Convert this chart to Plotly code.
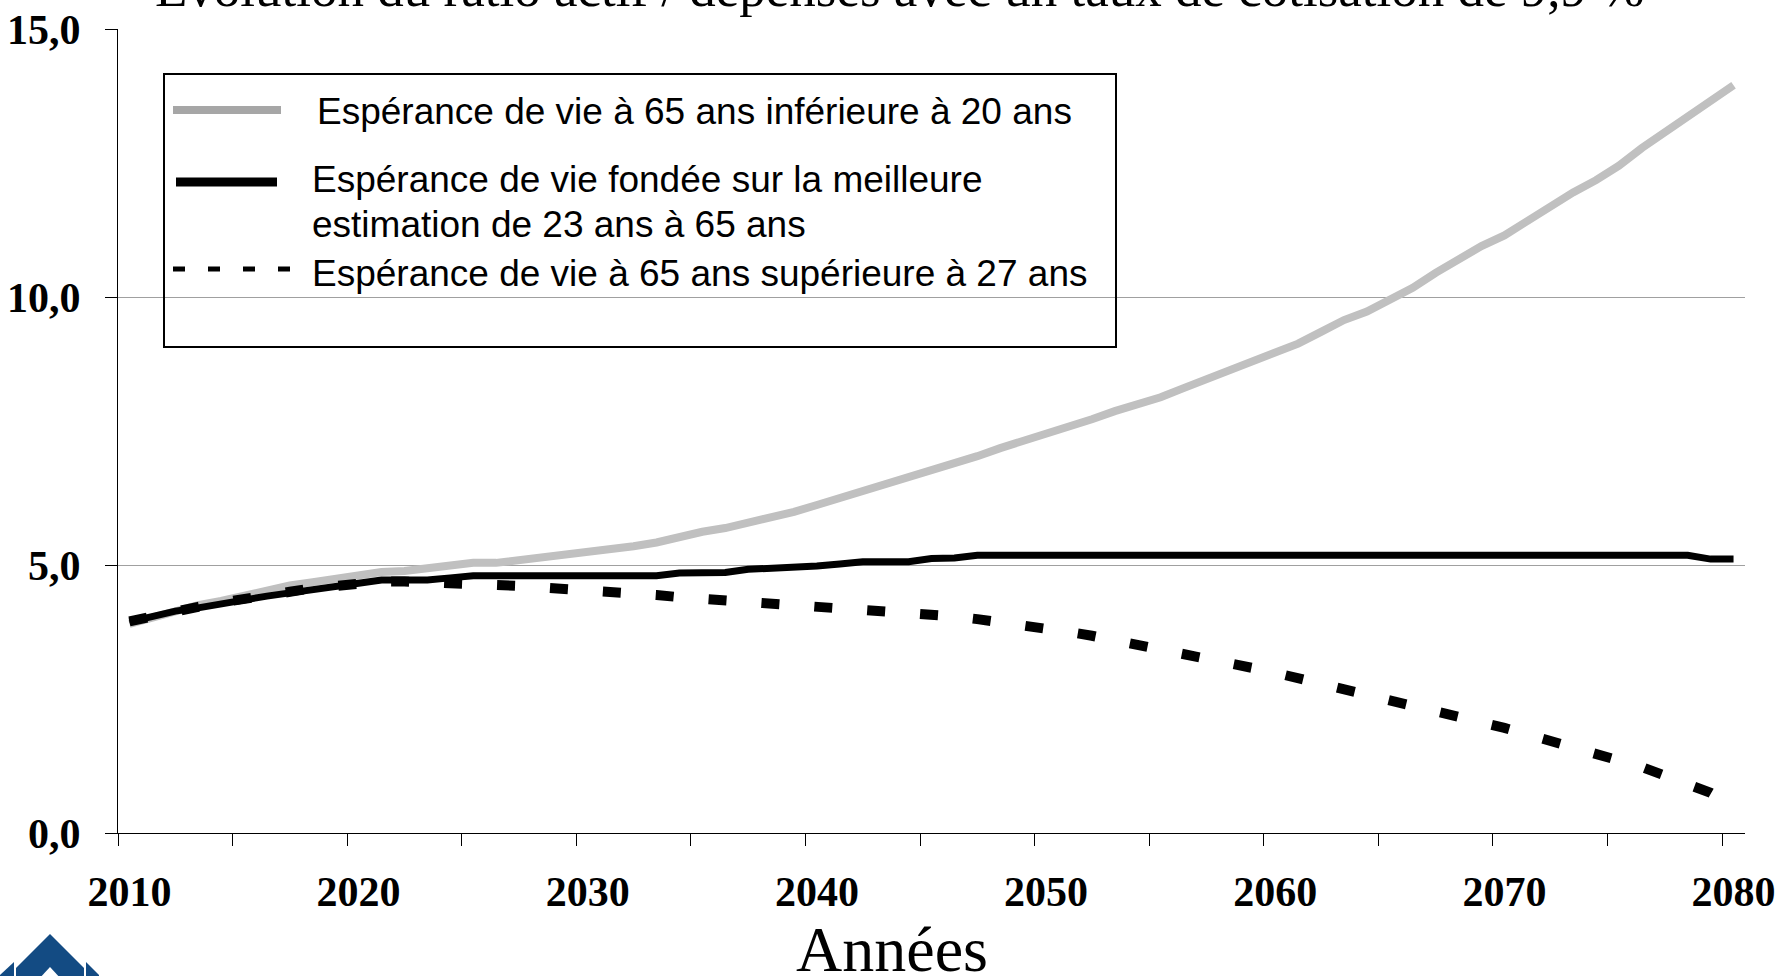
import plotly.graph_objects as go

# ---------------- data ----------------
years = list(range(2010, 2081))

names = [
    "Espérance de vie à 65 ans inférieure à 20 ans",
    "Espérance de vie fondée sur la meilleure<br>estimation de 23 ans à 65 ans",
    "Espérance de vie à 65 ans supérieure à 27 ans",
]

low_le = [3.90, 4.02, 4.15, 4.25, 4.33, 4.43, 4.53, 4.62, 4.68, 4.74,
          4.83, 4.87, 4.89, 4.93, 4.99, 5.04, 5.04, 5.09, 5.13, 5.18,
          5.23, 5.29, 5.35, 5.42, 5.53, 5.62, 5.69, 5.78, 5.88, 5.99,
          6.12, 6.25, 6.35, 6.48, 6.63, 6.76, 6.90, 7.03, 7.18, 7.31,
          7.44, 7.60, 7.72, 7.87, 8.00, 8.13, 8.30, 8.47, 8.62, 8.78,
          8.96, 9.13, 9.35, 9.57, 9.73, 9.95, 10.17, 10.45, 10.70, 10.95,
          11.15, 11.42, 11.70, 11.95, 12.18, 12.45, 12.78, 13.08, 13.38, 13.65,
          13.95]

best_le = [3.94, 4.05, 4.14, 4.20, 4.28, 4.35, 4.42, 4.48, 4.55, 4.61,
           4.66, 4.72, 4.72, 4.72, 4.76, 4.80, 4.80, 4.80, 4.80, 4.80,
           4.80, 4.80, 4.80, 4.80, 4.85, 4.86, 4.86, 4.92, 4.93, 4.97,
           4.98, 5.02, 5.06, 5.06, 5.06, 5.12, 5.13, 5.18, 5.18, 5.18,
           5.18, 5.18, 5.18, 5.18, 5.18, 5.18, 5.18, 5.18, 5.18, 5.18,
           5.18, 5.18, 5.18, 5.18, 5.18, 5.18, 5.18, 5.18, 5.18, 5.18,
           5.18, 5.18, 5.18, 5.18, 5.18, 5.18, 5.18, 5.18, 5.18, 5.11,
           5.11]

high_le = [3.95, 4.05, 4.14, 4.22, 4.30, 4.38, 4.44, 4.50, 4.57, 4.62,
           4.66, 4.69, 4.69, 4.68, 4.65, 4.63, 4.62, 4.61, 4.58, 4.56,
           4.54, 4.51, 4.48, 4.44, 4.40, 4.37, 4.34, 4.31, 4.28, 4.26,
           4.23, 4.21, 4.18, 4.16, 4.12, 4.08, 4.04, 3.99, 3.94, 3.88,
           3.82, 3.75, 3.68, 3.60, 3.52, 3.44, 3.35, 3.26, 3.17, 3.08,
           2.99, 2.89, 2.78, 2.69, 2.60, 2.50, 2.40, 2.30, 2.18, 2.08,
           1.96, 1.84, 1.72, 1.60, 1.49, 1.36, 1.23, 1.07, 0.93, 0.75,
           0.50]

x_labels = ["2010", "2020", "2030", "2040", "2050", "2060", "2070", "2080"]
x_label_years = [2010, 2020, 2030, 2040, 2050, 2060, 2070, 2080]
y_ticks = [0, 5, 10, 15]

title_text = "Évolution du ratio actif / dépenses avec un taux de cotisation de 9,9 %"
x_title = "Années"

# ---------------- layout helpers (pixel -> paper) ----------------
W, H = 1779, 976
L, R, T, B = 118, 34, 29, 143
PW, PH = W - L - R, H - T - B


def px(x):
    return (x - L) / PW


def py(y):
    return (H - B - y) / PH


fig = go.Figure()

fig.add_trace(go.Scatter(x=years, y=low_le, mode="lines", name=names[0],
                         line=dict(color="#C0C0C0", width=8), showlegend=False))
fig.add_trace(go.Scatter(x=years, y=best_le, mode="lines", name=names[1],
                         line=dict(color="#000000", width=7), showlegend=False))
fig.add_trace(go.Scatter(x=years, y=high_le, mode="lines", name=names[2],
                         line=dict(color="#000000", width=10, dash="18px,35px"),
                         showlegend=False))

shapes = []
# legend box
shapes.append(dict(type="rect", xref="paper", yref="paper",
                   x0=px(164), x1=px(1116), y0=py(347), y1=py(74),
                   line=dict(color="black", width=2), fillcolor="rgba(0,0,0,0)"))
# legend samples
shapes.append(dict(type="line", xref="paper", yref="paper",
                   x0=px(173), x1=px(281), y0=py(110), y1=py(110),
                   line=dict(color="#A6A6A6", width=8)))
shapes.append(dict(type="line", xref="paper", yref="paper",
                   x0=px(176), x1=px(277), y0=py(182), y1=py(182),
                   line=dict(color="black", width=9)))
shapes.append(dict(type="line", xref="paper", yref="paper",
                   x0=px(173), x1=px(291), y0=py(269), y1=py(269),
                   line=dict(color="black", width=5, dash="12px,23px")))


def path(points):
    s = "M " + " L ".join(f"{px(a):.5f},{py(b):.5f}" for a, b in points) + " Z"
    return s


logo_blue = "#134B83"
logo_parts = [
    [(50, 934), (84, 968), (84, 980), (16, 980), (16, 968)],
    [(0, 975), (14, 962), (14, 980), (0, 980)],
    [(86, 962), (99, 975), (99, 980), (86, 980)],
]
for pts in logo_parts:
    shapes.append(dict(type="path", xref="paper", yref="paper", path=path(pts),
                       fillcolor=logo_blue, line=dict(width=0), layer="above"))
shapes.append(dict(type="path", xref="paper", yref="paper",
                   path=path([(50, 967), (62, 980), (38, 980)]),
                   fillcolor="white", line=dict(width=0), layer="above"))

annotations = []
leg_font = dict(family="Liberation Sans, Arial, sans-serif", size=37, color="black")
name2_lines = names[1].split("<br>")
leg_items = [
    (315, 134, names[0]),
    (310, 201.5, name2_lines[0]),
    (310, 246.5, name2_lines[1]),
    (310, 295.5, names[2]),
]
for x_px, bottom_px, txt in leg_items:
    annotations.append(dict(xref="paper", yref="paper", x=px(x_px), y=py(bottom_px),
                            xanchor="left", yanchor="bottom", text=txt,
                            showarrow=False, font=leg_font, align="left"))

annotations.append(dict(xref="paper", yref="paper", x=px(899), y=py(19),
                        xanchor="center", yanchor="bottom", text=title_text,
                        showarrow=False,
                        font=dict(family="Liberation Serif, Times New Roman, serif",
                                  size=53, color="black")))
annotations.append(dict(xref="paper", yref="paper", x=px(892), y=py(987),
                        xanchor="center", yanchor="bottom", text=x_title,
                        showarrow=False,
                        font=dict(family="Liberation Serif, Times New Roman, serif",
                                  size=64, color="black")))

tick_font = dict(family="Liberation Serif, Times New Roman, serif", size=42,
                 color="black", weight="bold")

fig.update_layout(
    width=W, height=H,
    margin=dict(l=L, r=R, t=T, b=B, pad=0, autoexpand=False),
    paper_bgcolor="white", plot_bgcolor="white",
    separators=", ",
    showlegend=False,
    shapes=shapes,
    annotations=annotations,
    xaxis=dict(
        range=[2009.5, 2080.5], automargin=False,
        tickmode="array", tickvals=x_label_years, ticktext=x_labels,
        ticks="", showgrid=False, zeroline=False,
        showline=True, linecolor="black", linewidth=1,
        tickfont=tick_font, ticklabelstandoff=22,
        minor=dict(tickmode="array",
                   tickvals=[2009.5 + 5 * k for k in range(15)],
                   ticks="outside", ticklen=12, tickcolor="black", tickwidth=1,
                   showgrid=False),
    ),
    yaxis=dict(
        range=[0, 15], automargin=False, tickmode="array", tickvals=y_ticks,
        tickformat=".1f",
        ticks="outside", ticklen=12, tickcolor="black", tickwidth=1,
        showgrid=True, gridcolor="#A0A0A0", gridwidth=1,
        zeroline=False, showline=True, linecolor="black", linewidth=1,
        tickfont=tick_font, ticklabelstandoff=16,
    ),
)

fig.write_html("out.html", config={"displayModeBar": False},
               post_script="document.body.style.margin='0';document.body.style.overflow='hidden';")
